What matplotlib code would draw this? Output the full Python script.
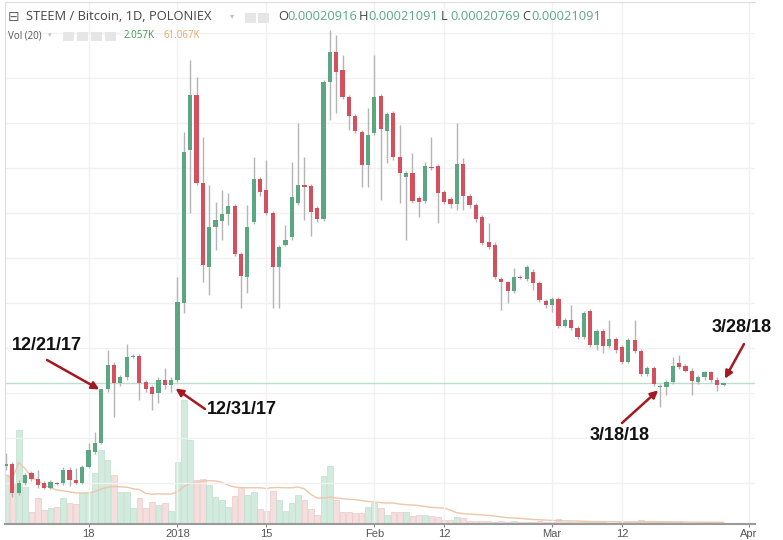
import matplotlib
matplotlib.use("Agg")
import matplotlib.pyplot as plt
import matplotlib.dates as mdates
from matplotlib.patches import Rectangle
import numpy as np
import pandas as pd

# daily candles, STEEM/BTC, prices in micro-BTC (1e-6 BTC)
dates = pd.date_range("2017-12-05", "2018-03-28", freq="D")

opens = [119, 121, 89, 100, 111, 104, 100, 95, 100, 100, 115, 103, 100, 118, 134, 144, 204, 231, 211, 218, 240, 241, 212, 207, 200, 215, 209,
         214, 300, 470, 531, 433, 340, 384, 391, 399, 408, 354, 329, 390, 438, 425, 400, 340, 365, 373, 411, 431, 430, 405, 393, 545, 579, 559, 529, 508, 490, 453,
         489, 530, 491, 511, 462, 440, 444, 417, 413, 451, 452, 423, 415, 410, 454, 419, 409, 395, 368, 365, 327, 323, 313, 329, 327, 335, 322, 302,
         298, 304, 275, 281, 272, 262, 291, 253, 269, 252, 260, 251, 235, 259, 247, 221, 228, 207, 207, 212, 233, 230, 225, 212, 218, 223, 215, 209.16]
highs = [133, 123, 103, 111, 113, 114, 102, 103, 101, 118, 118, 117, 120, 145, 157, 205, 248, 234, 220, 255, 243, 243, 214, 209, 218, 228, 218,
         329, 490, 570, 551, 484, 431, 412, 425, 422, 410, 357, 409, 462, 440, 459, 402, 364, 387, 457, 500, 462, 432, 408, 548, 603, 598, 575, 531, 510, 492, 517,
         575, 532, 512, 513, 498, 447, 467, 419, 457, 484, 454, 425, 418, 500, 461, 421, 411, 398, 389, 368, 329, 325, 339, 331, 342, 338, 324, 304,
         307, 307, 283, 298, 274, 291, 293, 271, 271, 281, 262, 253, 261, 281, 249, 230, 230, 210, 214, 240, 242, 232, 228, 220, 225, 225, 218, 210.91]
lows = [114, 85, 87, 98, 102, 95, 93, 93, 98, 98, 97, 99, 99, 117, 132, 143, 201, 173, 208, 215, 239, 192, 201, 181, 189, 205, 201,
        212, 289, 400, 431, 323, 309, 359, 370, 387, 352, 294, 311, 388, 419, 398, 294, 294, 363, 370, 409, 392, 375, 390, 391, 503, 511, 527, 492, 489, 429, 429,
        487, 414, 455, 459, 411, 370, 411, 395, 411, 448, 389, 410, 405, 403, 403, 405, 390, 364, 360, 327, 292, 300, 311, 327, 324, 314, 301, 295,
        290, 272, 273, 270, 260, 260, 251, 248, 244, 250, 245, 232, 233, 244, 219, 219, 208, 184, 198, 210, 227, 223, 198, 210, 215, 212, 202, 207.69]
closes = [121, 89, 100, 109, 104, 98, 95, 101, 99, 115, 103, 100, 118, 137, 144, 204, 231, 211, 218, 240, 241, 211, 205, 199, 215, 209, 215,
          301, 468, 531, 433, 342, 384, 392, 399, 408, 354, 330, 384, 438, 423, 400, 340, 362, 370, 418, 431, 429, 401, 393, 545, 579, 557, 529, 508, 491, 453, 487,
          529, 493, 510, 462, 444, 444, 413, 412, 452, 450, 422, 412, 410, 454, 419, 409, 393, 367, 362, 329, 323, 313, 329, 328, 340, 322, 303, 298,
          304, 274, 281, 272, 262, 289, 253, 269, 252, 260, 248, 235, 259, 247, 221, 228, 210, 208, 212, 230, 229, 225, 213, 218, 223, 214, 209, 210.91]
# volume, thousands
volumes = [980, 820, 1880, 740, 240, 520, 280, 320, 340, 520, 420, 400, 620, 640, 1020, 1480, 1280, 980, 640, 640, 320, 520, 320, 440, 380, 420, 260,
           1240, 2480, 1680, 880, 900, 780, 540, 480, 340, 560, 740, 580, 640, 300, 260, 660, 480, 260, 420, 580, 480, 300, 180, 960, 1160, 480, 240, 240, 220, 220, 340,
           420, 320, 180, 240, 240, 240, 160, 180, 180, 160, 140, 80, 80, 140, 120, 60, 60, 60, 60, 40, 60, 40, 60, 40, 40, 40, 60, 40,
           40, 100, 40, 40, 40, 40, 40, 40, 40, 20, 20, 40, 40, 40, 80, 60, 40, 40, 40, 40, 40, 20, 20, 20, 20, 20, 20, 2.057]

tick_dates = ["2017-12-18", "2018-01-01", "2018-01-15", "2018-02-01", "2018-02-12", "2018-03-01", "2018-03-12", "2018-04-01"]
tick_labels = ["18", "2018", "15", "Feb", "12", "Mar", "12", "Apr"]

GREEN = "#5aa782"
RED = "#d4505e"
W, H = 783, 540

o = np.array(opens, float)
h = np.array(highs, float)
l = np.array(lows, float)
c = np.array(closes, float)
v = np.array(volumes, float)
x = mdates.date2num(dates)
up = c >= o

fig = plt.figure(figsize=(W / 100, H / 100), dpi=100)
rect = [5 / W, (H - 524) / H, 750 / W, 522 / H]
ax_vol = fig.add_axes(rect)
ax = fig.add_axes(rect, sharex=ax_vol)
ax.patch.set_alpha(0)

# volume + 20 day MA
ax_vol.bar(x, v, width=0.9, color=np.where(up, "#d2ebde", "#f4dede"),
           edgecolor=np.where(up, "#bfdfce", "#ecc9c9"), linewidth=0.5)
vol_ma = pd.Series(v).rolling(20, min_periods=1).mean()
ax_vol.plot(x, vol_ma, color="#efc6a8", lw=1)
ax_vol.set_ylim(0, 522 * 20)
ax_vol.axis("off")

# candles
ax.vlines(x, l, h, color="#b4b4b4", lw=1, zorder=2)
ax.bar(x, np.maximum(np.abs(c - o), 0.9), bottom=np.minimum(o, c), width=0.66,
       color=np.where(up, GREEN, RED), linewidth=0, zorder=3)
ax.axhline(c[-1], color="#bcdecd", lw=1, zorder=1)

ax.set_ylim(54.5, 634.4)
ax.set_xlim(x[0] - 0.16, x[0] + 117.95)
ax.set_yticks(np.arange(100, 650, 50))
ax.set_xticks(mdates.date2num(pd.to_datetime(tick_dates)))
ax.set_xticklabels(tick_labels, fontsize=8, color="#555555", family="Liberation Sans")
ax.tick_params(axis="y", length=0, labelleft=False)
ax.tick_params(axis="x", length=2.5, color="#888888", pad=1)
ax.grid(True, color="#f1f1f1", lw=1, zorder=0)
ax.set_axisbelow(True)
ax.spines["right"].set_visible(False)
ax.spines["top"].set_color("#dddddd")
ax.spines["left"].set_color("#dddddd")
ax.spines["bottom"].set_color("#9a9a9a")
ax.spines["bottom"].set_linewidth(1.5)


def fp(px, py):
    return px / W, 1 - py / H


# legend header
hdr = dict(family=["Open Sans", "DejaVu Sans"], va="center")
fig.text(*fp(8, 17), "⊟", fontsize=10, color="#666666", **hdr)
fig.text(*fp(26, 17), "STEEM / Bitcoin, 1D, POLONIEX", fontsize=9.3, color="#454545", **hdr)
fig.text(*fp(230, 17), "▾", fontsize=6, color="#c0c0c0", **hdr)
for bx in [245, 258]:
    fig.add_artist(Rectangle(fp(bx, 23), 11 / W, 10 / H, transform=fig.transFigure,
                             facecolor="#e6e6e6", edgecolor="none"))
ohlc = [("O", 278, "0.00020916"), ("H", 359, "0.00021091"), ("L", 441, "0.00020769"), ("C", 522, "0.00021091")]
for letter, lx, val in ohlc:
    fig.text(*fp(lx, 17), letter, fontsize=9.3, color="#454545", **hdr)
    fig.text(*fp(lx + 9, 17), val, fontsize=9.3, color="#5aa888", **hdr)

fig.text(*fp(8, 36), "Vol (20)", fontsize=7, color="#555555", **hdr)
fig.text(*fp(48, 36), "▾", fontsize=5, color="#c0c0c0", **hdr)
for bx in [63, 77, 91, 105]:
    fig.add_artist(Rectangle(fp(bx, 41), 11 / W, 9 / H, transform=fig.transFigure,
                             facecolor="#e6e6e6", edgecolor="none"))
fig.text(*fp(124, 36), "2.057K", fontsize=7, color="#3c9a50", **hdr)
fig.text(*fp(163, 36), "61.067K", fontsize=7, color="#e6a765", **hdr)

# annotations
arrow = dict(arrowstyle="-|>", color="#a3191f", lw=1.8, mutation_scale=11, shrinkA=0, shrinkB=0)
notes = [
    ("12/21/17", (12, 345), (47, 360), (x[15] - 0.3, c[15])),
    ("12/31/17", (207, 410), (205, 409), (x[26] + 0.7, l[26] + 4)),
    ("3/18/18", (590, 436), (622, 423), (x[103] - 0.3, c[103] - 5)),
    ("3/28/18", (712, 328), (744, 344), (x[113] + 0.2, h[113] + 5)),
]
for label, txt, tail, tip in notes:
    fig.text(*fp(*txt), label, fontsize=13, fontweight="bold", color="#111111",
             family="Liberation Sans", va="center")
    ax.annotate("", xy=tip, xycoords="data", xytext=(tail[0], H - tail[1]),
                textcoords="figure pixels", arrowprops=arrow)

fig.savefig("out.png", dpi=100)
